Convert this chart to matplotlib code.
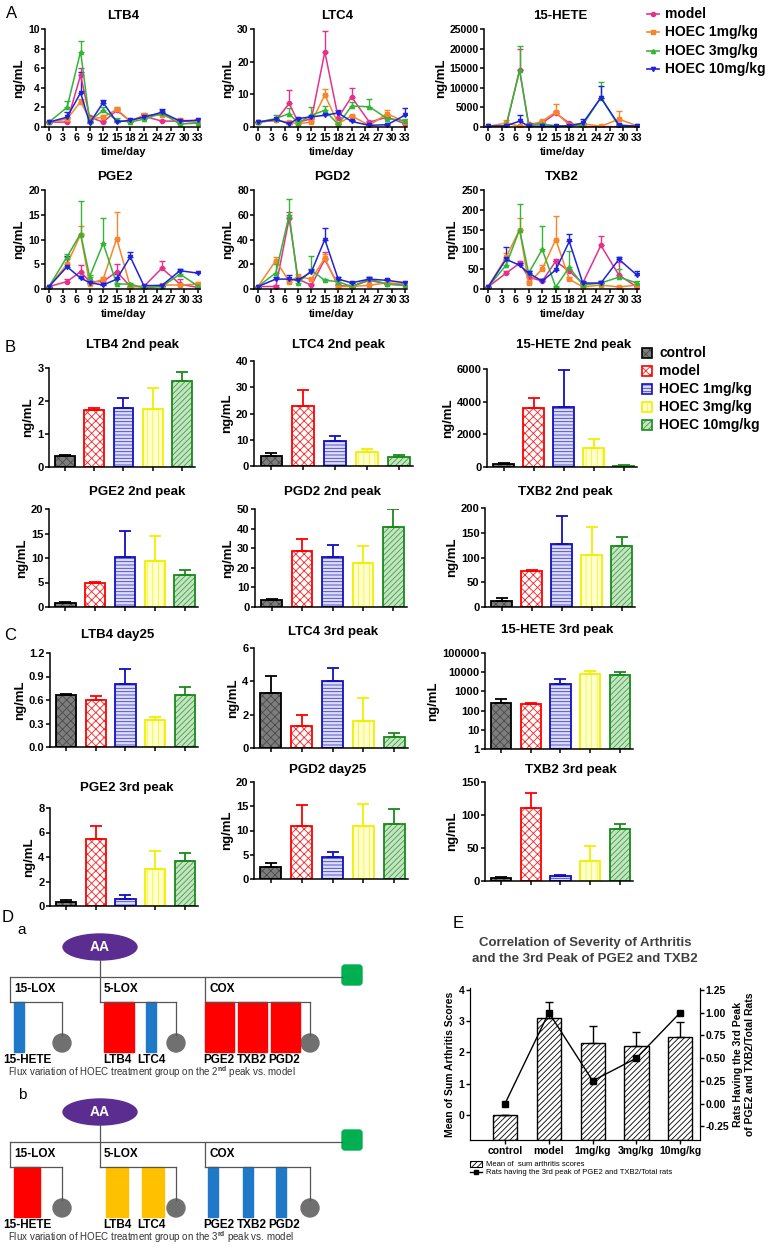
import numpy as np
import matplotlib.pyplot as plt
from matplotlib.patches import Ellipse, Rectangle, FancyBboxPatch, Circle

plt.rcParams['font.family'] = ['Liberation Sans', 'DejaVu Sans']
plt.rcParams['font.weight'] = 'bold'
plt.rcParams['axes.labelweight'] = 'bold'
plt.rcParams['hatch.linewidth'] = 0.6
plt.rcParams['mathtext.fontset'] = 'custom'
plt.rcParams['mathtext.rm'] = 'Liberation Sans'
plt.rcParams['mathtext.bf'] = 'Liberation Sans:bold'

W, H = 768, 1252

# ---------------- panel A : time course ----------------
days = [0, 4, 7, 9, 12, 15, 18, 21, 25, 29, 33]
line_names = ['model', 'HOEC 1mg/kg', 'HOEC 3mg/kg', 'HOEC 10mg/kg']
line_colors = ['#e5318a', '#f7862a', '#35b536', '#1e22dc']
line_markers = ['o', 's', '^', 'v']

ltb4_mean = [[0.5, 0.5, 5.3, 1.0, 0.5, 1.7, 0.6, 1.1, 0.6, 0.6, 0.5],
             [0.5, 0.8, 2.6, 0.8, 1.0, 1.8, 0.6, 1.2, 1.2, 0.7, 0.6],
             [0.5, 2.0, 7.7, 0.6, 1.7, 0.7, 0.5, 0.8, 1.4, 0.3, 0.4],
             [0.5, 1.0, 3.5, 0.4, 2.5, 0.5, 0.7, 1.0, 1.5, 0.6, 0.7]]
ltb4_top = [[0.5, 0.6, 6.0, 1.1, 0.6, 1.9, 0.7, 1.3, 0.7, 0.7, 0.6],
            [0.5, 0.9, 2.9, 0.9, 1.2, 2.0, 0.7, 1.4, 1.4, 0.9, 0.7],
            [0.5, 2.7, 8.8, 0.7, 2.0, 0.9, 0.6, 0.9, 1.6, 0.4, 0.5],
            [0.5, 1.5, 5.6, 0.5, 2.8, 0.6, 0.8, 1.3, 1.8, 0.7, 0.8]]

ltc4_mean = [[1.5, 2.0, 7.2, 1.5, 2.5, 23.0, 2.9, 9.2, 1.5, 3.0, 1.0],
             [1.5, 2.0, 1.5, 1.0, 1.5, 9.8, 1.0, 3.4, 0.5, 4.1, 1.5],
             [1.5, 2.6, 4.1, 1.2, 3.6, 5.1, 0.8, 6.4, 6.2, 2.6, 1.9],
             [1.5, 2.3, 1.0, 2.6, 3.1, 3.6, 4.3, 1.7, 0.5, 0.7, 3.6]]
ltc4_top = [[1.5, 2.3, 11.3, 1.8, 2.8, 29.3, 3.2, 11.8, 1.8, 3.5, 1.3],
            [1.5, 2.3, 1.8, 1.2, 1.8, 11.5, 1.2, 3.7, 0.7, 5.1, 1.8],
            [1.5, 3.6, 5.7, 1.4, 6.2, 6.4, 1.0, 7.7, 8.7, 3.0, 2.4],
            [1.5, 2.6, 1.3, 2.9, 3.4, 3.9, 5.3, 2.0, 0.7, 0.9, 5.7]]

hete_mean = [[200, 200, 14500, 800, 1000, 3500, 1000, 100, 100, 100, 100],
             [200, 1000, 200, 200, 1500, 3800, 500, 800, 200, 2000, 300],
             [200, 200, 14500, 500, 800, 300, 200, 500, 7500, 200, 200],
             [200, 300, 1500, 200, 200, 200, 300, 1000, 7500, 500, 200]]
hete_top = [[200, 300, 19800, 1000, 1200, 4000, 1300, 200, 200, 200, 200],
            [200, 1800, 300, 300, 1800, 5800, 700, 1000, 300, 4000, 400],
            [200, 300, 20700, 700, 1000, 400, 300, 700, 11500, 300, 300],
            [200, 400, 3000, 300, 300, 300, 400, 2000, 10500, 700, 300]]

pge2_mean = [[0.5, 1.5, 3.5, 1.5, 1.5, 3.5, 0.5, 0.5, 4.2, 1.0, 0.3],
             [0.5, 5.0, 11.0, 1.0, 2.0, 10.2, 0.5, 0.5, 0.8, 0.8, 1.0],
             [0.5, 6.5, 11.2, 2.5, 9.2, 1.0, 1.0, 0.2, 0.5, 3.0, 0.6],
             [0.5, 4.5, 2.2, 1.3, 0.8, 2.0, 6.5, 0.7, 0.7, 3.7, 3.2]]
pge2_top = [[0.5, 2.0, 4.8, 1.7, 1.8, 5.0, 0.7, 0.7, 5.6, 2.0, 0.5],
            [0.5, 6.0, 12.8, 1.2, 2.5, 15.5, 0.7, 0.7, 1.0, 1.0, 1.5],
            [0.5, 7.0, 17.7, 2.8, 14.3, 1.3, 1.3, 0.4, 0.7, 3.7, 0.8],
            [0.5, 6.7, 2.6, 1.6, 1.0, 3.0, 7.5, 0.9, 0.9, 4.1, 3.5]]

pgd2_mean = [[2, 2, 57, 8, 3, 24, 3, 2, 7, 4, 3],
             [2, 23, 6, 10, 8, 25, 2, 2, 3, 5, 4],
             [2, 13, 60, 5, 15, 7, 6, 2, 8, 4, 3],
             [2, 8, 8, 7, 14, 40, 8, 5, 8, 7, 5]]
pgd2_top = [[2, 3, 62, 9, 4, 30, 4, 3, 8, 5, 4],
            [2, 26, 7, 12, 9, 28, 3, 3, 4, 6, 5],
            [2, 20, 73, 7, 27, 8, 7, 3, 10, 5, 4],
            [2, 10, 11, 8, 16, 49, 10, 6, 10, 8, 6]]

txb2_mean = [[5, 40, 65, 30, 20, 70, 45, 15, 110, 35, 5],
             [5, 80, 150, 15, 50, 125, 25, 5, 10, 5, 10],
             [5, 60, 150, 40, 100, 5, 55, 10, 15, 30, 15],
             [5, 75, 60, 40, 20, 48, 120, 15, 15, 75, 35]]
txb2_top = [[5, 45, 70, 35, 25, 75, 50, 20, 135, 67, 8],
            [5, 90, 180, 20, 60, 185, 30, 8, 20, 8, 13],
            [5, 70, 215, 45, 160, 8, 95, 13, 18, 50, 20],
            [5, 105, 65, 45, 25, 70, 140, 18, 20, 80, 45]]

# ---------------- panels B, C : peak bars ----------------
bar_names = ['control', 'model', 'HOEC 1mg/kg', 'HOEC 3mg/kg', 'HOEC 10mg/kg']
bar_face = ['#7d7d7d', '#ffffff', '#dcdcf4', '#ffffd0', '#c4e4c4']
bar_hatch_col = ['#4a4a4a', '#ff2020', '#4040d0', '#f4f430', '#40a040']
bar_edge = ['#000000', '#ff0000', '#1010c0', '#f0f000', '#1a8a1a']
bar_hatch = ['xxxx', 'xxxx', '-----', '|||', '//////']

b_ltb4 = [0.33, 1.73, 1.78, 1.77, 2.60]
b_ltb4_top = [0.36, 1.78, 2.10, 2.40, 2.88]
b_ltc4 = [3.85, 22.8, 9.6, 5.4, 3.5]
b_ltc4_top = [4.9, 29.1, 11.3, 6.4, 4.1]
b_hete = [180, 3620, 3650, 1170, 80]
b_hete_top = [220, 4240, 5920, 1740, 110]
b_pge2 = [0.8, 5.0, 10.3, 9.3, 6.5]
b_pge2_top = [1.0, 5.2, 15.6, 14.4, 7.5]
b_pgd2 = [3.4, 28.6, 25.5, 22.5, 40.9]
b_pgd2_top = [4.3, 34.6, 31.5, 31.2, 50.0]
b_txb2 = [13, 72, 127, 105, 123]
b_txb2_top = [18, 74, 183, 162, 142]

c_ltb4 = [0.66, 0.60, 0.80, 0.34, 0.67]
c_ltb4_top = [0.68, 0.65, 1.00, 0.38, 0.77]
c_ltc4 = [3.3, 1.35, 4.0, 1.6, 0.65]
c_ltc4_top = [4.3, 2.0, 4.8, 3.0, 0.9]
c_hete = [258, 213, 2500, 8200, 7000]
c_hete_top = [385, 240, 4200, 11200, 10400]
c_pge2 = [0.35, 5.5, 0.6, 3.0, 3.7]
c_pge2_top = [0.5, 6.5, 0.9, 4.5, 4.3]
c_pgd2 = [2.5, 11.0, 4.5, 11.0, 11.3]
c_pgd2_top = [3.2, 15.3, 5.5, 15.5, 14.5]
c_txb2 = [5, 111, 7, 30, 79]
c_txb2_top = [6, 133, 9, 53, 86]

# ---------------- panel D : flux diagrams ----------------
d_names = ['15-HETE', 'LTB4', 'LTC4', 'PGE2', 'TXB2', 'PGD2']
d_enzymes = ['15-LOX', '5-LOX', 'COX']
d_color_2nd = ['#1f78c8', '#ff0000', '#1f78c8', '#ff0000', '#ff0000', '#ff0000']
d_color_3rd = ['#ff0000', '#ffc000', '#ffc000', '#1f78c8', '#1f78c8', '#1f78c8']

# ---------------- panel E : arthritis scores ----------------
e_groups = ['control', 'model', '1mg/kg', '3mg/kg', '10mg/kg']
e_score = [0.0, 3.1, 2.3, 2.2, 2.5]
e_score_top = [0.0, 3.6, 2.85, 2.65, 2.95]
e_ratio = [0.0, 1.0, 0.25, 0.5, 1.0]

fig = plt.figure(figsize=(W / 100, H / 100), dpi=100)


def px_axes(x0, y0, x1, y1):
    return fig.add_axes([x0 / W, 1 - y1 / H, (x1 - x0) / W, (y1 - y0) / H])


def ftext(x, y, s, **kw):
    fig.text(x / W, 1 - y / H, s, **kw)


def prism(ax, fs=8):
    for s in ['top', 'right']:
        ax.spines[s].set_visible(False)
    for s in ['left', 'bottom']:
        ax.spines[s].set_linewidth(1.1)
    ax.tick_params(width=1.1, length=3, labelsize=fs, pad=1)


def line_panel(x0, x1, ytop, ybot, title, tx, means, tops, ymax, ystep):
    k = (x1 - x0) / 33
    ax = px_axes(x0 - 0.8 * k, ytop, x1 + 0.4 * k, ybot)
    for g in range(4):
        m = np.array(means[g], float)
        t = np.array(tops[g], float)
        ax.errorbar(days, m, yerr=[np.zeros_like(m), t - m], color=line_colors[g],
                    marker=line_markers[g], ms=3, lw=1.1, elinewidth=1,
                    capsize=2, capthick=1)
    ax.set_xlim(-0.8, 33.4)
    ax.set_ylim(0, ymax)
    ax.set_xticks(range(0, 34, 3))
    ax.set_yticks(np.arange(0, ymax + 1, ystep))
    prism(ax, 7.6)
    ax.set_ylabel('ng/mL', fontsize=9.5, labelpad=2)
    ftext(tx, ytop - 13, title, ha='center', va='center', fontsize=9.5)
    ftext((x0 + x1) / 2, ybot + 25, 'time/day', ha='center', va='center', fontsize=8)
    return ax


def bar_panel(x0, x1, ytop, ybot, title, tx, ty, vals, tops, ymax, ticks, log=False, tlabels=None):
    ax = px_axes(x0, ytop, x1, ybot)
    base = 1 if log else 0
    for i in range(5):
        ax.bar(i, vals[i] - base, bottom=base, width=0.68, color=bar_face[i],
               edgecolor=bar_hatch_col[i], hatch=bar_hatch[i], lw=0)
        ax.bar(i, vals[i] - base, bottom=base, width=0.68, fill=False,
               edgecolor=bar_edge[i], lw=1.3)
        ax.errorbar(i, vals[i], yerr=[[0], [tops[i] - vals[i]]], fmt='none',
                    ecolor=bar_edge[i], elinewidth=1.3, capsize=4, capthick=1.3)
    if log:
        ax.set_yscale('log')
        ax.minorticks_off()
        ax.set_ylim(1, ymax)
    else:
        ax.set_ylim(0, ymax)
    ax.set_xlim(-0.55, 4.45)
    ax.set_xticks(range(5))
    ax.set_xticklabels([])
    ax.set_yticks(ticks)
    ax.set_yticklabels(tlabels if tlabels else [f'{t:g}' for t in ticks])
    prism(ax, 8)
    ax.set_ylabel('ng/mL', fontsize=9.5, labelpad=2)
    ftext(tx, ty, title, ha='center', va='center', fontsize=9.5)
    return ax


# ---- A ----
line_panel(49, 198, 29, 127, 'LTB4', 123, ltb4_mean, ltb4_top, 10, 2)
line_panel(258, 405, 29, 127, 'LTC4', 337, ltc4_mean, ltc4_top, 30, 10)
line_panel(488, 637, 29, 127, '15-HETE', 560, hete_mean, hete_top, 25000, 5000)
line_panel(49, 198, 190, 289, 'PGE2', 115, pge2_mean, pge2_top, 20, 5)
line_panel(258, 405, 190, 289, 'PGD2', 332, pgd2_mean, pgd2_top, 80, 20)
line_panel(488, 637, 190, 289, 'TXB2', 562, txb2_mean, txb2_top, 250, 50)

# ---- B ----
bar_panel(49, 195, 368, 467, 'LTB4 2nd peak', 133, 345, b_ltb4, b_ltb4_top, 3, [0, 1, 2, 3])
bar_panel(254, 413, 361, 466, 'LTC4 2nd peak', 338, 345, b_ltc4, b_ltc4_top, 40, [0, 10, 20, 30, 40])
bar_panel(487, 637, 369, 467, '15-HETE 2nd peak', 574, 345, b_hete, b_hete_top, 6000,
          [0, 2000, 4000, 6000])
bar_panel(49, 198, 509, 607, 'PGE2 2nd peak', 137, 492, b_pge2, b_pge2_top, 20, [0, 5, 10, 15, 20])
bar_panel(255, 407, 509, 607, 'PGD2 2nd peak', 332, 492, b_pgd2, b_pgd2_top, 50,
          [0, 10, 20, 30, 40, 50])
bar_panel(485, 635, 508, 607, 'TXB2 2nd peak', 565, 492, b_txb2, b_txb2_top, 200,
          [0, 50, 100, 150, 200])

# ---- C ----
bar_panel(50, 198, 653, 747, 'LTB4 day25', 118, 635, c_ltb4, c_ltb4_top, 1.2, [0, 0.3, 0.6, 0.9, 1.2],
          tlabels=['0.0', '0.3', '0.6', '0.9', '1.2'])
bar_panel(254, 408, 648, 748, 'LTC4 3rd peak', 333, 632, c_ltc4, c_ltc4_top, 6, [0, 2, 4, 6])
bar_panel(485, 633, 653, 749, '15-HETE 3rd peak', 557, 630, c_hete, c_hete_top, 100000,
          [1, 10, 100, 1000, 10000, 100000], log=True)
bar_panel(50, 198, 808, 906, 'PGE2 3rd peak', 127, 788, c_pge2, c_pge2_top, 8, [0, 2, 4, 6, 8])
bar_panel(254, 408, 782, 879, 'PGD2 day25', 328, 770, c_pgd2, c_pgd2_top, 20, [0, 5, 10, 15, 20])
bar_panel(485, 633, 782, 881, 'TXB2 3rd peak', 571, 770, c_txb2, c_txb2_top, 150, [0, 50, 100, 150])

# ---- E ----
ax_e = px_axes(470, 988, 700, 1140)
xe = np.arange(5)
e_base = -0.8
ax_e.bar(xe, np.array(e_score) - e_base, bottom=e_base, width=0.55, color='white',
         edgecolor='black', hatch='//////', lw=1)
ax_e.errorbar(xe, e_score, yerr=[np.zeros(5), np.array(e_score_top) - np.array(e_score)],
              fmt='none', ecolor='black', elinewidth=1, capsize=3, capthick=1)
ax_e.set_ylim(e_base, 4.05)
ax_e.set_xlim(-0.8, 4.45)
ax_e.set_yticks([0, 1, 2, 3, 4])
ax_e.set_xticks(xe)
ax_e.set_xticklabels(e_groups, fontsize=6.5)
ax_e.spines['top'].set_visible(False)
ax_e.tick_params(width=1, length=3, labelsize=7.5, pad=1)
ax_e.set_ylabel('Mean of Sum Arthritis Scores', fontsize=7.5, labelpad=3)
ax_r = ax_e.twinx()
ax_r.plot(xe, e_ratio, color='black', marker='s', ms=4, lw=1)
ax_r.set_ylim(-0.4, 1.27)
ax_r.set_yticks([-0.25, 0, 0.25, 0.5, 0.75, 1.0, 1.25])
ax_r.set_yticklabels(['-0.25', '0.00', '0.25', '0.50', '0.75', '1.00', '1.25'])
ax_r.spines['top'].set_visible(False)
ax_r.tick_params(width=1, length=3, labelsize=7.5, pad=1)
ax_r.set_ylabel('Rats Having the 3rd Peak\nof PGE2 and TXB2/Total Rats', fontsize=7.5, labelpad=3)
ftext(585, 951, 'Correlation of Severity of Arthritis\nand the 3rd Peak of PGE2 and TXB2',
      ha='center', va='center', fontsize=9.5, color='#404040', linespacing=1.5)

# ---- overlay: panel letters, legends, diagrams ----
ov = fig.add_axes([0, 0, 1, 1])
ov.set_xlim(0, W)
ov.set_ylim(H, 0)
ov.axis('off')

for lab, (lx, ly) in zip('ABCDE', [(12, 14), (10, 347), (10, 636), (8, 918), (458, 924)]):
    ov.text(lx, ly, lab, fontsize=12, fontweight='normal', ha='center', va='center')

# legend A
for g in range(4):
    y = 14 + 18.3 * g
    ov.plot([647, 653, 659], [y, y, y], color=line_colors[g], lw=1.2,
            marker=line_markers[g], ms=3, markevery=[1])
    ov.text(665, y, line_names[g], fontsize=10, va='center', ha='left')

# legend B
for i in range(5):
    y = 353 + 18 * i
    ov.add_patch(Rectangle((642, y - 5), 10, 10, facecolor=bar_face[i],
                           edgecolor=bar_hatch_col[i], hatch=bar_hatch[i], lw=0))
    ov.add_patch(Rectangle((642, y - 5), 10, 10, fill=False, edgecolor=bar_edge[i], lw=1.2))
    ov.text(659, y, bar_names[i], fontsize=10, va='center', ha='left')

# legend E
ov.add_patch(Rectangle((470, 1161), 12, 6, facecolor='white', edgecolor='black', hatch='//////', lw=0.8))
ov.text(486, 1164, 'Mean of  sum arthritis scores', fontsize=5.5, va='center', fontweight='normal')
ov.plot([470, 476, 482], [1172, 1172, 1172], color='black', lw=1, marker='s', ms=3, markevery=[1])
ov.text(486, 1172, 'Rats having the 3rd peak of PGE2 and TXB2/Total rats', fontsize=5.5, va='center',
        fontweight='normal')

bar_x = [[14, 104, 146, 205, 238, 271], [14, 106, 142, 208, 243, 276]]
bar_w = [[10, 30, 10, 29, 29, 29], [26, 22, 22, 10, 10, 10]]
label_x = [27, 117, 151, 219, 252, 284]
circle_x = [62, 176, 310]
enz_x = [10, 100, 205]


def diagram(y0, colors, xs, widths, sub, tag):
    ov.text(22, y0 - 17, tag, fontsize=11, fontweight='normal', ha='center', va='center')
    ov.add_patch(Ellipse((100, y0), 74, 26, color='#5c2d91'))
    ov.text(100, y0, 'AA', color='white', fontsize=10, ha='center', va='center')
    yl = y0 + 30
    ov.plot([100, 100], [y0 + 13, yl], color='#555', lw=0.9)
    ov.plot([10, 342], [yl, yl], color='#555', lw=0.9)
    ov.add_patch(FancyBboxPatch((342, yl - 12), 20, 20, boxstyle='round,pad=0,rounding_size=3',
                                color='#00b050'))
    ys = yl + 25
    for j in range(3):
        ov.plot([enz_x[j], enz_x[j]], [yl, ys], color='#555', lw=0.9)
        ov.plot([enz_x[j], circle_x[j]], [ys, ys], color='#555', lw=0.9)
        ov.text(enz_x[j] + 4, yl + 12, d_enzymes[j], fontsize=8.5, ha='left', va='center')
        ov.plot([circle_x[j], circle_x[j]], [ys, ys + 33], color='#555', lw=0.9)
        ov.add_patch(Circle((circle_x[j], ys + 41), 9, color='#707070'))
    for i in range(6):
        ov.add_patch(Rectangle((xs[i], ys), widths[i], 50, color=colors[i]))
        ov.text(label_x[i], ys + 58, d_names[i], fontsize=8.5, ha='center', va='center')
    ov.text(8, ys + 70, 'Flux variation of HOEC treatment group on the ' + sub + ' peak vs. model',
            fontsize=7, fontweight='normal', ha='left', va='center', color='#333')


diagram(947, d_color_2nd, bar_x[0], bar_w[0], '2$^{\\rm nd}$', 'a')
diagram(1112, d_color_3rd, bar_x[1], bar_w[1], '3$^{\\rm rd}$', 'b')

fig.savefig('out.png', dpi=100)
